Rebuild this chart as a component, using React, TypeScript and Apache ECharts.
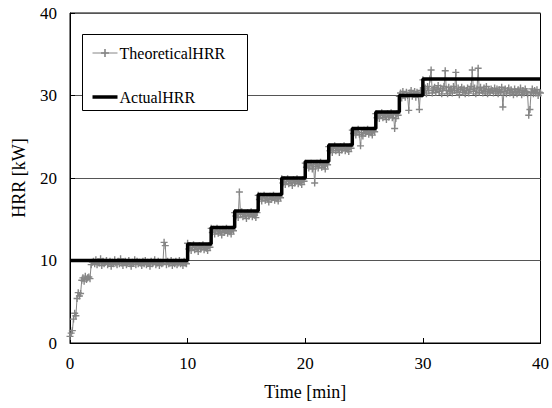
import React, { useEffect, useRef } from "react";
import * as echarts from "echarts";

// Time axis of the theoretical HRR samples (min), every 0.1 min
const theoTimes: number[] = Array.from({ length: 401 }, (_, i) => +(i * 0.1).toFixed(1));

// Theoretical HRR (kW) (one row = 2 min)
const theoValues: number[] = [
  0.8, 1.2, 1.5, 2.9, 3.6, 3.3, 5.4, 6.1, 5.7, 6.0, 7.6, 7.9, 7.5, 8.1, 7.7, 7.9, 8.0, 7.8, 9.5, 9.8,
  9.9, 9.6, 10.1, 9.5, 9.8, 9.7, 10.2, 9.4, 9.9, 9.6, 9.8, 10.0, 9.5, 9.7, 9.9, 9.3, 9.8, 9.6, 10.1, 9.7,
  9.5, 9.9, 9.6, 10.2, 9.7, 9.4, 9.8, 9.9, 9.5, 9.7, 10.0, 9.6, 9.3, 9.8, 9.7, 10.1, 9.5, 9.9, 9.6, 9.8,
  9.7, 9.4, 9.9, 9.6, 10.0, 9.5, 9.8, 9.7, 9.3, 9.9, 9.6, 9.8, 10.1, 9.5, 9.7, 9.9, 9.4, 9.8, 9.6, 9.7,
  12.2, 11.8, 9.5, 9.9, 9.6, 9.7, 10.0, 9.4, 9.8, 9.6, 9.9, 9.5, 9.7, 10.0, 9.6, 9.8, 9.4, 9.9, 9.7, 9.6,
  12.1, 11.4, 11.8, 11.2, 11.6, 11.9, 11.3, 11.7, 11.5, 11.1, 11.8, 11.4, 11.6, 11.9, 11.3, 11.7, 11.5, 11.2, 11.8, 11.6,
  13.9, 13.4, 13.8, 13.2, 13.6, 13.9, 13.3, 13.7, 13.5, 13.1, 13.8, 13.4, 13.6, 13.9, 13.3, 13.7, 13.5, 13.2, 13.8, 13.6,
  15.8, 15.4, 15.7, 15.2, 18.3, 15.6, 15.9, 15.3, 15.7, 15.5, 15.1, 15.8, 15.4, 15.6, 15.9, 15.3, 15.7, 15.5, 15.2, 15.8,
  17.9, 17.4, 17.8, 17.2, 17.6, 17.9, 17.3, 17.7, 17.5, 17.1, 17.8, 17.4, 17.6, 17.9, 17.3, 17.7, 17.5, 17.2, 17.8, 17.6,
  19.9, 19.4, 19.8, 19.2, 19.6, 19.9, 19.3, 19.7, 19.5, 19.1, 19.8, 19.4, 19.6, 19.9, 19.3, 19.7, 19.5, 19.2, 19.8, 19.6,
  21.8, 21.3, 21.7, 21.2, 21.5, 21.8, 21.1, 21.6, 19.4, 21.4, 21.8, 21.2, 21.6, 21.9, 21.3, 21.7, 21.5, 21.1, 21.8, 21.6,
  23.8, 23.3, 23.7, 23.1, 23.6, 23.9, 23.3, 23.7, 23.5, 23.1, 23.8, 23.4, 23.6, 23.9, 23.3, 23.7, 23.5, 23.2, 23.8, 23.6,
  25.8, 25.4, 25.7, 25.2, 25.6, 25.9, 25.3, 23.9, 25.5, 25.1, 25.8, 25.4, 25.6, 25.9, 25.3, 25.7, 25.5, 25.2, 25.8, 25.6,
  27.8, 27.3, 27.7, 27.2, 27.6, 27.9, 27.3, 27.7, 27.5, 27.1, 27.8, 27.4, 27.6, 27.9, 27.3, 27.7, 26.0, 27.2, 27.8, 27.6,
  29.9, 30.3, 29.7, 30.5, 30.1, 29.8, 30.4, 30.0, 28.2, 30.3, 30.6, 29.9, 30.2, 30.5, 29.8, 30.4, 30.1, 28.3, 30.6, 30.2,
  31.9, 30.4, 30.9, 30.2, 31.1, 30.6, 32.0, 33.1, 30.3, 30.8, 31.0, 30.4, 30.7, 31.2, 30.5, 30.9, 30.2, 30.8, 31.1, 33.0,
  30.6, 30.2, 31.0, 30.5, 30.8, 30.3, 31.1, 30.6, 32.8, 30.4, 30.9, 30.1, 30.7, 31.0, 30.4, 30.8, 30.2, 30.6, 30.9, 30.3,
  30.7, 31.1, 33.1, 30.5, 30.9, 30.2, 30.8, 33.3, 30.4, 31.0, 30.6, 30.3, 30.9, 30.5, 31.1, 30.2, 30.7, 30.4, 30.8, 30.6,
  30.3, 30.9, 30.5, 30.8, 30.2, 30.7, 30.4, 31.0, 28.6, 30.5, 30.8, 30.2, 30.6, 30.9, 30.3, 30.7, 30.4, 30.1, 30.8, 30.5,
  30.2, 30.7, 30.4, 30.9, 30.1, 30.6, 30.3, 30.8, 30.5, 30.2, 27.6, 28.3, 30.4, 30.8, 30.2, 30.6, 30.3, 30.7, 30.0, 30.4,
  30.3,
];

// Actual HRR step changes: time (min) at which each level starts, and the level (kW)
const stepTimes: number[] = [0, 10, 12, 14, 16, 18, 20, 22, 24, 26, 28, 30, 40];
const stepLevels: number[] = [10, 12, 14, 16, 18, 20, 22, 24, 26, 28, 30, 32, 32];

const xTicks: number[] = [0, 10, 20, 30, 40];
const yTicks: number[] = [0, 10, 20, 30, 40];

const FONT = "'Liberation Serif', 'DejaVu Serif', serif";
const PLUS = "path://M4,0h2v4h4v2h-4v4h-2v-4h-4v-2h4z";
const GRAY = "#868686";

export default function App() {
  const ref = useRef<HTMLDivElement>(null);
  useEffect(() => {
    if (!ref.current) return;
    document.body.style.margin = "0";
    const chart = echarts.init(ref.current, undefined, { renderer: "svg" });
    const theo = theoTimes.map((t, i) => [t, theoValues[i]]);
    const actual = stepTimes.map((t, i) => [t, stepLevels[i]]);
    chart.setOption({
      animation: false,
      backgroundColor: "#fff",
      textStyle: { fontFamily: FONT },
      grid: {
        left: 70,
        right: 7,
        top: 13,
        bottom: 65,
        show: true,
        borderColor: "#000",
        borderWidth: 1,
      },
      graphic: [
        {
          type: "rect",
          z: 5,
          shape: { x: 82.5, y: 34.5, width: 165, height: 76 },
          style: { fill: "#fff", stroke: "#000", lineWidth: 1 },
        },
      ],
      legend: {
        orient: "vertical",
        left: 82,
        top: 34,
        z: 6,
        padding: [11, 10, 9, 10],
        itemWidth: 25,
        itemHeight: 10,
        itemGap: 28,
        textStyle: { fontFamily: FONT, fontSize: 16, color: "#000", padding: [0, 0, 0, -3] },
        data: [
          { name: "TheoreticalHRR", itemStyle: { color: GRAY }, lineStyle: { width: 1 } },
          { name: "ActualHRR", icon: "path://M0,0h25v3.5h-25z", itemStyle: { color: "#000" } },
        ],
      },
      xAxis: {
        type: "value",
        min: 0,
        max: 40,
        interval: 10,
        name: "Time [min]",
        nameLocation: "middle",
        nameGap: 40,
        nameTextStyle: { fontFamily: FONT, fontSize: 18, color: "#000" },
        axisLine: { show: true, lineStyle: { color: "#000", width: 1 } },
        axisTick: { show: true, inside: true, length: 5, lineStyle: { color: "#000" } },
        axisLabel: {
          fontFamily: FONT,
          fontSize: 17,
          color: "#000",
          margin: 12,
          formatter: (v: number) => (xTicks.includes(v) ? String(v) : ""),
        },
        splitLine: { show: false },
      },
      yAxis: {
        type: "value",
        min: 0,
        max: 40,
        interval: 10,
        name: "HRR [kW]",
        nameLocation: "middle",
        nameGap: 42,
        nameTextStyle: { fontFamily: FONT, fontSize: 18, color: "#000" },
        axisLine: { show: true, lineStyle: { color: "#000", width: 1 } },
        axisTick: { show: true, inside: true, length: 5, lineStyle: { color: "#000" } },
        axisLabel: {
          fontFamily: FONT,
          fontSize: 17,
          color: "#000",
          margin: 13,
          formatter: (v: number) => (yTicks.includes(v) ? String(v) : ""),
        },
        splitLine: { show: true, lineStyle: { color: "#555", width: 1 } },
      },
      series: [
        {
          name: "TheoreticalHRR",
          type: "line",
          data: theo,
          symbol: PLUS,
          symbolSize: 7,
          showSymbol: true,
          itemStyle: { color: GRAY },
          lineStyle: { color: GRAY, width: 1 },
          z: 2,
        },
        {
          name: "ActualHRR",
          type: "line",
          data: actual,
          step: "end",
          symbol: "none",
          itemStyle: { color: "#000" },
          lineStyle: { color: "#000", width: 3.5 },
          z: 3,
        },
      ],
    });
    return () => chart.dispose();
  }, []);
  return <div ref={ref} style={{ width: 552, height: 408 }} />;
}
